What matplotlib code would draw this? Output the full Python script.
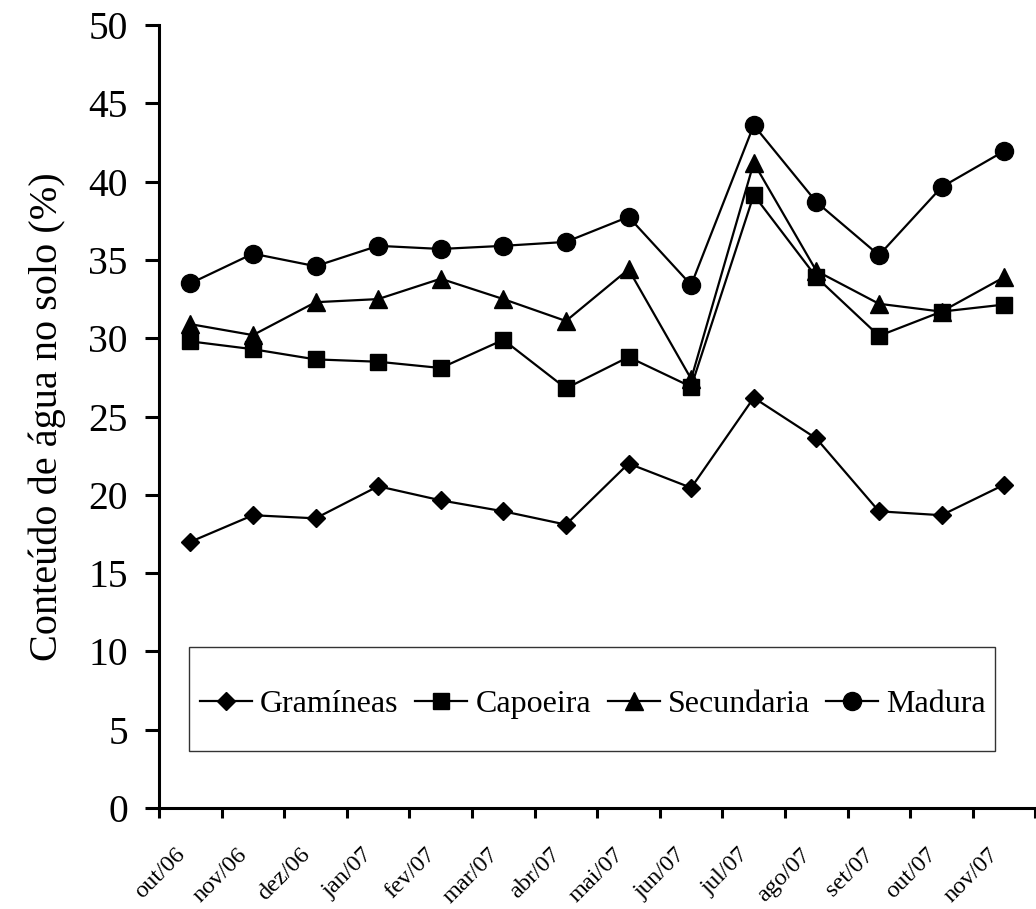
import numpy as np
import matplotlib
matplotlib.use("Agg")
import matplotlib.pyplot as plt
import matplotlib.patches as patches
import matplotlib.transforms as mtransforms

plt.rcParams["font.family"] = ["Liberation Serif", "DejaVu Serif"]

meses = ["out/06", "nov/06", "dez/06", "jan/07", "fev/07", "mar/07", "abr/07",
         "mai/07", "jun/07", "jul/07", "ago/07", "set/07", "out/07", "nov/07"]

gramineas = [17.0, 18.7, 18.5, 20.55, 19.65, 18.95, 18.1,
             22.0, 20.45, 26.2, 23.6, 18.95, 18.7, 20.65]
capoeira = [29.8, 29.3, 28.65, 28.5, 28.1, 29.9, 26.8,
            28.8, 26.9, 39.15, 33.9, 30.15, 31.7, 32.15]
secundaria = [30.9, 30.2, 32.3, 32.5, 33.8, 32.5, 31.1,
              34.4, 27.4, 41.2, 34.3, 32.2, 31.7, 33.9]
madura = [33.5, 35.4, 34.6, 35.9, 35.7, 35.9, 36.15,
          37.75, 33.4, 43.6, 38.7, 35.3, 39.65, 41.95]

fig = plt.figure(figsize=(10.36, 9.09), dpi=100)
ax = fig.add_axes((0.1535, 0.111, 0.846, 0.8615))

x = np.arange(len(meses)) + 0.5
series = [
    ("Gramíneas", gramineas, "D", 9.5),
    ("Capoeira", capoeira, "s", 12),
    ("Secundaria", secundaria, "^", 13),
    ("Madura", madura, "o", 13),
]
for nome, vals, mk, ms in series:
    ax.plot(x, vals, color="black", lw=1.6, marker=mk, ms=ms,
            markerfacecolor="black", markeredgecolor="black", label=nome)

ax.set_xlim(0, len(meses))
ax.set_ylim(0, 50)
ax.set_yticks(np.arange(0, 51, 5))
ax.tick_params(axis="y", labelsize=28.5, width=2.2, length=10, pad=12.5)

# ticks between months, labels at month centres
ax.set_xticks(np.arange(len(meses) + 1))
ax.set_xticklabels([])
ax.tick_params(axis="x", width=2.2, length=7)
ax.set_xticks(x, minor=True)
ax.set_xticklabels(meses, minor=True, rotation=45, ha="right", va="top",
                   rotation_mode="anchor", fontsize=17.5)
ax.tick_params(axis="x", which="minor", length=0, pad=26)
shift = mtransforms.ScaledTranslation(-0.16, 0, fig.dpi_scale_trans)
for lab in ax.get_xticklabels(minor=True):
    lab.set_transform(lab.get_transform() + shift)

for s in ["top", "right"]:
    ax.spines[s].set_visible(False)
for s in ["left", "bottom"]:
    ax.spines[s].set_linewidth(2.2)

ax.set_ylabel("Conteúdo de água no solo (%)", fontsize=29, labelpad=16)

# legend box
ax.add_patch(patches.Rectangle((0.0342, 0.0728), 0.92, 0.1328,
                               transform=ax.transAxes, facecolor="white",
                               edgecolor="#333333", lw=1.0, zorder=3))
leg = ax.legend(loc="center left", bbox_to_anchor=(0.0468, 0.132),
                ncol=4, fontsize=23, frameon=False,
                handlelength=1.63, handletextpad=0.25, columnspacing=0.52,
                borderaxespad=0, borderpad=0)
leg.set_zorder(4)

fig.savefig("out.png", dpi=100)
